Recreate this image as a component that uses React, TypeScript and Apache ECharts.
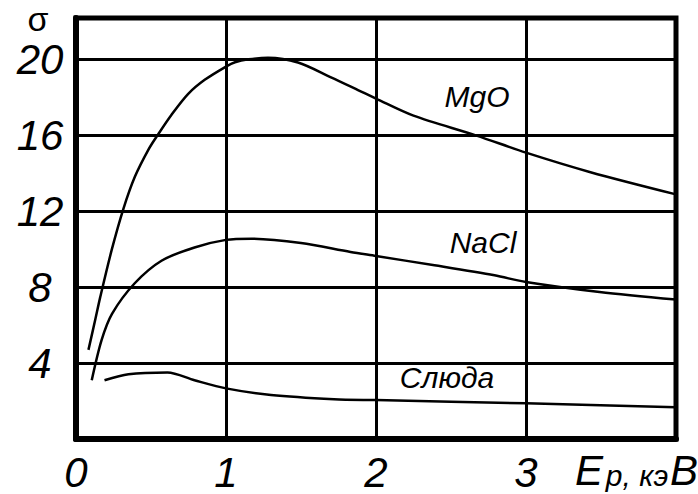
import React, { useEffect, useRef } from "react";
import * as echarts from "echarts";

const xTicks = [0, 1, 2, 3];
const yTicks = [4, 8, 12, 16, 20];

const mgoX = [0.083, 0.13, 0.16, 0.238, 0.316, 0.393, 0.482, 0.542, 0.637, 0.748, 0.858, 1.0, 1.06, 1.15, 1.28, 1.48, 1.70, 1.88, 2.0, 2.25, 2.67, 3.0, 3.43, 4.0];
const mgoY = [4.7, 6.35, 7.43, 9.97, 12.14, 13.84, 15.25, 16.0, 17.1, 18.2, 18.94, 19.64, 19.87, 20.02, 20.1, 19.85, 19.07, 18.4, 17.95, 17.05, 16.0, 15.1, 14.07, 12.9];

const naclX = [0.105, 0.17, 0.24, 0.39, 0.57, 0.79, 1.0, 1.17, 1.5, 1.83, 2.0, 2.39, 2.79, 3.0, 3.49, 4.0];
const naclY = [3.1, 5.2, 6.6, 8.2, 9.4, 10.1, 10.5, 10.56, 10.33, 9.86, 9.65, 9.16, 8.63, 8.28, 7.75, 7.35];

const micaX = [0.19, 0.35, 0.61, 0.79, 1.0, 1.3, 1.72, 2.0, 3.0, 4.0];
const micaY = [3.1, 3.42, 3.51, 3.1, 2.67, 2.32, 2.1, 2.05, 1.88, 1.67];

const seriesNames = ["MgO", "NaCl", "Слюда"];

const FONT = "'Liberation Sans', Arial, sans-serif";

function zip(xs: number[], ys: number[]) {
  return xs.map((x, i) => [x, ys[i]]);
}

export default function App() {
  const ref = useRef<HTMLDivElement>(null);
  useEffect(() => {
    if (!ref.current) return;
    const chart = echarts.init(ref.current, null, { renderer: "svg" });
    const lineStyle = { color: "#000", width: 2.5 };
    const labelText = (text: string, x: number, y: number, size = 30, italic = true) => ({
      type: "text",
      x,
      y,
      style: {
        text,
        fill: "#000",
        font: `${italic ? "italic " : ""}${size}px ${FONT}`,
        align: "center",
        verticalAlign: "middle",
      },
    });
    chart.setOption({
      animation: false,
      backgroundColor: "#fff",
      grid: {
        left: 76,
        right: 22,
        top: 18,
        bottom: 55,
        show: true,
        borderColor: "#000",
        borderWidth: 5,
        backgroundColor: "transparent",
      },
      xAxis: {
        type: "value",
        min: 0,
        max: 4,
        interval: 1,
        axisLine: { show: true, lineStyle: { color: "#000", width: 6 } },
        axisTick: { show: false },
        splitLine: { show: true, lineStyle: { color: "#000", width: 3 } },
        axisLabel: {
          margin: 12,
          color: "#000",
          fontSize: 42,
          fontStyle: "italic",
          fontFamily: FONT,
          formatter: (v: number) => (xTicks.includes(v) ? String(v) : ""),
        },
      },
      yAxis: {
        type: "value",
        min: 0,
        max: 22.2,
        interval: 4,
        axisLine: { show: true, lineStyle: { color: "#000", width: 6 } },
        axisTick: { show: false },
        splitLine: { show: true, lineStyle: { color: "#000", width: 3 } },
        axisLabel: {
          margin: 36,
          align: "center",
          color: "#000",
          fontSize: 42,
          fontStyle: "italic",
          fontFamily: FONT,
          formatter: (v: number) => (yTicks.includes(v) ? String(v) : ""),
        },
      },
      series: [
        { name: seriesNames[0], type: "line", data: zip(mgoX, mgoY), smooth: 0.3, symbol: "none", lineStyle },
        { name: seriesNames[1], type: "line", data: zip(naclX, naclY), smooth: 0.3, symbol: "none", lineStyle },
        { name: seriesNames[2], type: "line", data: zip(micaX, micaY), smooth: 0.3, symbol: "none", lineStyle },
      ],
      graphic: [
        labelText("σ", 38, 19, 34, false),
        labelText(seriesNames[0], 477, 96, 30),
        labelText(seriesNames[1], 483, 242, 30),
        labelText(seriesNames[2], 447, 377, 30),
        labelText("E", 589, 470, 42),
        labelText("p, кэ", 637, 475, 30),
        labelText("В", 684, 470, 42),
      ],
    });
    return () => chart.dispose();
  }, []);
  return <div ref={ref} style={{ width: 698, height: 494, position: "absolute", left: 0, top: 0 }} />;
}
